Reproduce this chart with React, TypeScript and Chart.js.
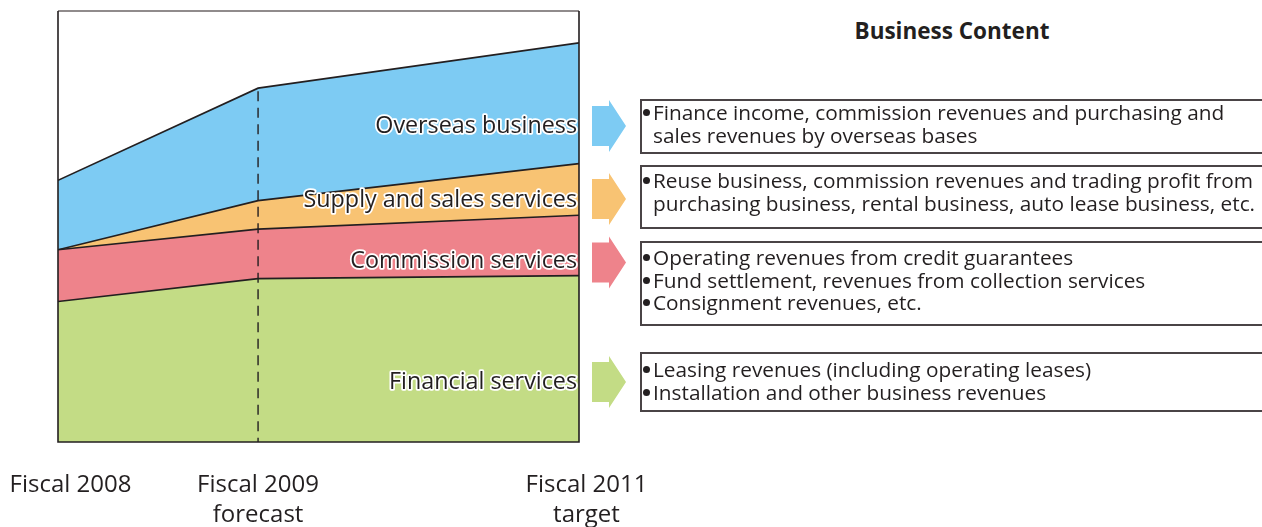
import React, { useEffect, useRef } from "react";
import { Chart, registerables } from "chart.js";

Chart.register(...registerables);

// ---------- data ----------
const periods: string[][] = [["Fiscal 2008"], ["Fiscal 2009", "forecast"], ["Fiscal 2011", "target"]];
// relative position of each period along the schematic time axis (0..100)
const timeline = [0, 38.4, 100];

const seriesNames = ["Financial services", "Commission services", "Supply and sales services", "Overseas business"];
const financial = [32.6, 37.9, 38.6];
const commission = [12.0, 11.5, 14.0];
const supply = [0, 6.6, 12.0];
const overseas = [16.1, 26.1, 28.0];

const contentTitle = "Business Content";
const overseasContent = [["Finance income, commission revenues and purchasing and", "sales revenues by overseas bases"]];
const supplyContent = [["Reuse business, commission revenues and trading profit from", "purchasing business, rental business, auto lease business, etc."]];
const commissionContent = [["Operating revenues from credit guarantees"], ["Fund settlement, revenues from collection services"], ["Consignment revenues, etc."]];
const financialContent = [["Leasing revenues (including operating leases)"], ["Installation and other business revenues"]];

// ---------- style ----------
const INK = "#231f20";
const FONT = '"Open Sans", "Noto Sans", sans-serif';
const colors = ["#c3dc85", "#ee838b", "#f8c373", "#7dcbf3"];

const seriesValues = [financial, commission, supply, overseas];

const decorPlugin = {
  id: "decor",
  afterDatasetsDraw(chart: any) {
    const { ctx, chartArea: a, scales } = chart;
    const xs = scales.x;
    const ys = scales.y;
    ctx.save();

    // dashed forecast line
    const total1 = seriesValues.reduce((s, arr) => s + arr[1], 0);
    const xf = xs.getPixelForValue(timeline[1]);
    ctx.setLineDash([10, 6.5]);
    ctx.strokeStyle = INK;
    ctx.lineWidth = 1.4;
    ctx.beginPath();
    ctx.moveTo(xf, ys.getPixelForValue(total1) + 3);
    ctx.lineTo(xf, a.bottom);
    ctx.stroke();
    ctx.setLineDash([]);

    // frame
    ctx.lineWidth = 1.6;
    ctx.strokeStyle = "#6b6566";
    ctx.beginPath();
    ctx.moveTo(a.left, a.top);
    ctx.lineTo(a.right, a.top);
    ctx.stroke();
    ctx.strokeStyle = INK;
    ctx.beginPath();
    ctx.moveTo(a.right, a.top);
    ctx.lineTo(a.right, a.bottom);
    ctx.lineTo(a.left, a.bottom);
    ctx.lineTo(a.left, a.top);
    ctx.stroke();

    // series labels inside the chart
    const labelBaselines = [389.3, 267.7, 206.5, 133.3];
    ctx.font = `500 23.3px ${FONT}`;
    ctx.textAlign = "right";
    ctx.textBaseline = "alphabetic";
    ctx.lineJoin = "round";
    seriesNames.forEach((name, i) => {
      ctx.lineWidth = 3.5;
      ctx.strokeStyle = "#ffffff";
      ctx.strokeText(name, a.right - 2, labelBaselines[i]);
      ctx.fillStyle = INK;
      ctx.fillText(name, a.right - 2, labelBaselines[i]);
    });

    // arrows
    const arrowCenters = [382, 262.5, 199, 126];
    const x0 = a.right + 13;
    const x1 = a.right + 30;
    const x2 = a.right + 47;
    arrowCenters.forEach((cy, i) => {
      ctx.fillStyle = colors[i];
      ctx.beginPath();
      ctx.moveTo(x0, cy - 20);
      ctx.lineTo(x1, cy - 20);
      ctx.lineTo(x1, cy - 26);
      ctx.lineTo(x2, cy);
      ctx.lineTo(x1, cy + 26);
      ctx.lineTo(x1, cy + 20);
      ctx.lineTo(x0, cy + 20);
      ctx.closePath();
      ctx.fill();
    });

    // period labels
    const offsets = [12.5, 0, 7.5];
    ctx.font = `500 24px ${FONT}`;
    ctx.textAlign = "center";
    ctx.fillStyle = INK;
    periods.forEach((lines, i) => {
      const px = xs.getPixelForValue(timeline[i]) + offsets[i];
      lines.forEach((ln, j) => {
        ctx.fillText(ln, px, 491.7 + j * 30);
      });
    });

    ctx.restore();
  },
};

function ContentBox({ top, height, padTop, items }: { top: number; height: number; padTop: number; items: string[][] }) {
  return (
    <div
      style={{
        position: "absolute",
        left: 640,
        top,
        width: 660,
        height,
        boxSizing: "border-box",
        border: "2px solid #4a4446",
        paddingTop: padTop,
        fontFamily: FONT,
        fontWeight: 500,
        fontSize: 20.8,
        lineHeight: "22.5px",
        color: INK,
        whiteSpace: "nowrap",
      }}
    >
      {items.map((lines, i) => (
        <div key={i} style={{ display: "flex" }}>
          <span style={{ width: 11, flex: "none", position: "relative" }}>
            <span
              style={{
                position: "absolute",
                left: 1,
                top: 8,
                width: 7,
                height: 7,
                borderRadius: "50%",
                background: INK,
              }}
            />
          </span>
          <div>
            {lines.map((ln, j) => (
              <div key={j}>{ln}</div>
            ))}
          </div>
        </div>
      ))}
    </div>
  );
}

export default function App() {
  const canvasRef = useRef<HTMLCanvasElement | null>(null);

  useEffect(() => {
    const canvas = canvasRef.current;
    if (!canvas) return;
    const mk = (arr: number[]) => arr.map((v, i) => ({ x: timeline[i], y: v }));
    const chart = new Chart(canvas, {
      type: "line",
      data: {
        datasets: seriesValues.map((vals, i) => ({
          label: seriesNames[i],
          data: mk(vals),
          backgroundColor: colors[i],
          borderColor: INK,
          borderWidth: 1.6,
          pointRadius: 0,
          tension: 0,
          fill: i === 0 ? "origin" : "-1",
        })),
      },
      options: {
        responsive: false,
        animation: false,
        events: [],
        layout: { padding: { left: 58, top: 11, right: 81, bottom: 85 } },
        scales: {
          x: { type: "linear", min: 0, max: 100, display: false },
          y: { stacked: true, min: 0, max: 100, display: false },
        },
        plugins: {
          legend: { display: false },
          tooltip: { enabled: false },
          title: { display: false },
        },
      },
      plugins: [decorPlugin],
    });
    return () => chart.destroy();
  }, []);

  return (
    <div style={{ position: "absolute", left: 0, top: 0, width: 1262, height: 527, overflow: "hidden", background: "#fff" }}>
      <canvas ref={canvasRef} width={660} height={527} style={{ position: "absolute", left: 0, top: 0, display: "block" }} />
      <div
        style={{
          position: "absolute",
          left: 752,
          width: 400,
          top: 17,
          textAlign: "center",
          fontFamily: FONT,
          fontWeight: 700,
          fontSize: 22.5,
          color: INK,
          lineHeight: "28px",
        }}
      >
        {contentTitle}
      </div>
      <ContentBox top={99} height={55} padTop={0} items={overseasContent} />
      <ContentBox top={165} height={64} padTop={2} items={supplyContent} />
      <ContentBox top={241} height={85} padTop={3} items={commissionContent} />
      <ContentBox top={352} height={60} padTop={4} items={financialContent} />
    </div>
  );
}
